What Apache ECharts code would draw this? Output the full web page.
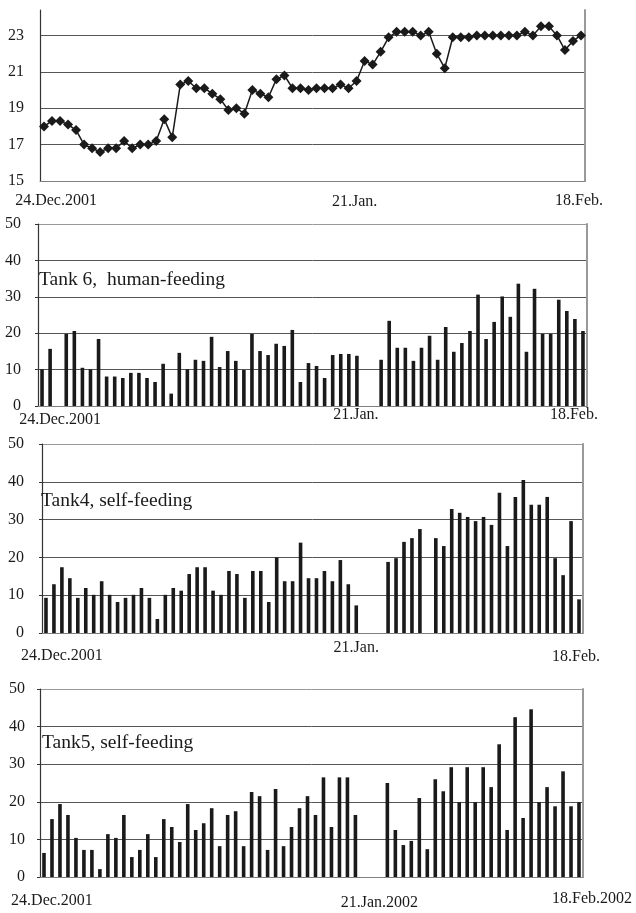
<!DOCTYPE html>
<html>
<head>
<meta charset="utf-8">
<script src="https://cdn.jsdelivr.net/npm/echarts@6/dist/echarts.min.js"></script>
<style>
  html, body { margin: 0; padding: 0; background: #fff; }
  #main { width: 636px; height: 913px; }
</style>
</head>
<body>
<div id="main"></div>
<script>
// 68 day slots, 24 Dec 2001 .. 18 Feb 2002
const days = Array.from({ length: 68 }, (_, i) => 'd' + i);

// water temperature (top panel)
const temp = [
  18.0, 18.3, 18.3, 18.1, 17.8, 17.0, 16.8, 16.6, 16.8, 16.8, 17.2, 16.8, 17.0, 17.0, 17.2, 18.4, 17.4,
  20.3, 20.5, 20.1, 20.1, 19.8, 19.5, 18.9, 19.0, 18.7, 20.0, 19.8, 19.6, 20.6, 20.8, 20.1, 20.1, 20.0,
  20.1, 20.1, 20.1, 20.3, 20.1, 20.5, 21.6, 21.4, 22.1, 22.9, 23.2, 23.2, 23.2, 23.0, 23.2, 22.0, 21.2,
  22.9, 22.9, 22.9, 23.0, 23.0, 23.0, 23.0, 23.0, 23.0, 23.2, 23.0, 23.5, 23.5, 23.0, 22.2, 22.7, 23.0
];

// daily feed, tank 6 (human-feeding)
const tank6 = [
  10.1, 15.7, null, 19.8, 20.6, 10.5, 10.1, 18.4, 8.1, 8.1, 7.7, 9.1, 9.1, 7.7, 6.6, 11.6, 3.4,
  14.6, 10.1, 12.7, 12.4, 19.0, 10.7, 15.1, 12.4, 9.9, 19.8, 15.1, 14.0, 17.1, 16.5, 20.9, 6.6, 11.8,
  11.0, 7.7, 14.0, 14.3, 14.3, 13.8, null, null, 12.7, 23.4, 16.0, 16.0, 12.4, 16.0, 19.3, 12.7, 21.7,
  14.9, 17.3, 20.6, 30.6, 18.4, 23.1, 30.1, 24.5, 33.6, 14.9, 32.2, 19.8, 19.8, 29.2, 26.1, 23.9, 20.6
];

// daily feed, tank 4 (self-feeding)
const tank4 = [
  9.3, 12.9, 17.4, 14.5, 9.3, 11.9, 10.1, 13.7, 10.1, 8.2, 9.3, 10.1, 11.9, 9.3, 3.7, 10.1, 11.9,
  11.2, 15.6, 17.4, 17.4, 11.2, 10.1, 16.4, 15.6, 9.3, 16.4, 16.4, 8.2, 20.0, 13.7, 13.7, 23.9, 14.5,
  14.5, 16.4, 13.7, 19.3, 12.9, 7.3, null, null, null, 18.8, 19.8, 24.1, 25.1, 27.5, null, 25.1, 23.0,
  32.8, 31.8, 30.7, 29.6, 30.7, 28.6, 37.1, 23.0, 36.0, 40.5, 33.9, 33.9, 36.0, 19.8, 15.3, 29.6, 8.9
];

// daily feed, tank 5 (self-feeding)
const tank5 = [
  6.4, 15.4, 19.4, 16.5, 10.4, 7.2, 7.2, 2.1, 11.4, 10.4, 16.5, 5.3, 7.2, 11.4, 5.3, 15.4, 13.3,
  9.3, 19.4, 12.5, 14.3, 18.3, 8.2, 16.5, 17.5, 8.2, 22.6, 21.5, 7.2, 23.4, 8.2, 13.3, 18.3, 21.5,
  16.5, 26.5, 13.3, 26.5, 26.5, 16.5, null, null, null, 25.0, 12.5, 8.5, 9.6, 21.0, 7.4, 26.0, 22.8,
  29.2, 19.9, 29.2, 19.9, 29.2, 23.9, 35.3, 12.5, 42.5, 15.7, 44.6, 19.9, 23.9, 18.8, 28.1, 18.8, 19.9
];

// x tick labels (slot index + text)
const tickIdx = [0, 39, 67];
const tickText = ['24.Dec.2001', '21.Jan.', '18.Feb.'];
const tickIdx4 = [0, 42, 67];
const tickText4 = ['24.Dec.2001', '21.Jan.2002', '18.Feb.2002'];

const panelTitles = ['', 'Tank 6,  human-feeding', 'Tank4, self-feeding', 'Tank5, self-feeding'];

const FONT = 'Liberation Serif';
const INK = '#1a1a1a';

// layout per panel
const panels = [
  { grid: { left: 40, top: 10, width: 545, height: 171 }, min: 15, max: 24.4, interval: 2,
    ticks: tickIdx, texts: tickText, margin: 12, dx: [12, -2, -2], dy: [0, 1, 0], yMargin: 16, yTick: 0 },
  { grid: { left: 38, top: 224, width: 549, height: 182 }, min: 0, max: 50, interval: 10,
    ticks: tickIdx, texts: tickText, margin: 1, dx: [18, -1, -9], dy: [5, 0, 0], yMargin: 17, yTick: 3 },
  { grid: { left: 42, top: 444, width: 541, height: 189 }, min: 0, max: 50, interval: 10,
    ticks: tickIdx, texts: tickText, margin: 7, dx: [16, 0, -3], dy: [8, 0, 9], yMargin: 18, yTick: 3 },
  { grid: { left: 40, top: 689, width: 543, height: 188 }, min: 0, max: 50, interval: 10,
    ticks: tickIdx4, texts: tickText4, margin: 14, dx: [8, 0, 13], dy: [2, 4, 0], yMargin: 15, yTick: 3 }
];

function xAxisFor(p, i) {
  const rich = {};
  p.texts.forEach((t, k) => {
    const d = p.dx[k];
    rich['t' + k] = {
      fontFamily: FONT, fontSize: 16, color: INK,
      padding: [p.dy[k], d < 0 ? -2 * d : 0, 0, d > 0 ? 2 * d : 0]
    };
  });
  return {
    type: 'category', gridIndex: i, data: days, boundaryGap: true,
    axisLine: { onZero: false, lineStyle: { color: '#808080', width: 1 } },
    axisTick: { show: false },
    splitLine: { show: false },
    axisLabel: {
      interval: (idx) => p.ticks.indexOf(idx) >= 0,
      margin: p.margin,
      formatter: (val, idx) => {
        const k = p.ticks.indexOf(idx);
        return k < 0 ? '' : '{t' + k + '|' + p.texts[k] + '}';
      },
      rich: rich
    }
  };
}

function yAxisFor(p, i) {
  const lines = i === 0 ? ['#555'] : ['#555', '#555', '#555', '#555', '#555', '#999'];
  return {
    type: 'value', gridIndex: i, min: p.min, max: p.max, interval: p.interval,
    axisLine: { show: true, lineStyle: { color: '#333', width: 1.2 } },
    axisTick: { show: p.yTick > 0, length: p.yTick, lineStyle: { color: '#333' } },
    axisLabel: {
      margin: p.yMargin, fontFamily: FONT, fontSize: 16, color: INK,
      showMaxLabel: i !== 0
    },
    splitLine: { show: true, showMaxLine: i !== 0, lineStyle: { color: lines, width: 1 } }
  };
}

// right-hand plot border
function borderAxis(i) {
  return {
    type: 'value', gridIndex: i, position: 'right',
    axisLine: { show: true, lineStyle: { color: '#999', width: 2 } },
    axisTick: { show: false }, axisLabel: { show: false }, splitLine: { show: false }
  };
}

const chart = echarts.init(document.getElementById('main'));

const option = {
  animation: false,
  backgroundColor: '#fff',
  title: [
    { text: panelTitles[1], left: 39, top: 270 },
    { text: panelTitles[2], left: 41, top: 491 },
    { text: panelTitles[3], left: 42, top: 733 }
  ].map(t => Object.assign(t, {
    padding: 0,
    textStyle: { fontFamily: FONT, fontSize: 19.5, fontWeight: 'normal', color: INK }
  })),
  grid: panels.map(p => Object.assign({ outerBoundsMode: 'none', containLabel: false }, p.grid)),
  xAxis: panels.map(xAxisFor),
  yAxis: panels.map(yAxisFor).concat(panels.map((p, i) => borderAxis(i))),
  series: [
    {
      type: 'line', xAxisIndex: 0, yAxisIndex: 0, data: temp,
      symbol: 'diamond', symbolSize: 10, showSymbol: true, showAllSymbol: true,
      lineStyle: { color: INK, width: 1.5 },
      itemStyle: { color: INK }
    },
    { type: 'bar', xAxisIndex: 1, yAxisIndex: 1, data: tank6, barWidth: 3.6, itemStyle: { color: INK } },
    { type: 'bar', xAxisIndex: 2, yAxisIndex: 2, data: tank4, barWidth: 3.6, itemStyle: { color: INK } },
    { type: 'bar', xAxisIndex: 3, yAxisIndex: 3, data: tank5, barWidth: 3.6, itemStyle: { color: INK } }
  ]
};

chart.setOption(option);
</script>
</body>
</html>
